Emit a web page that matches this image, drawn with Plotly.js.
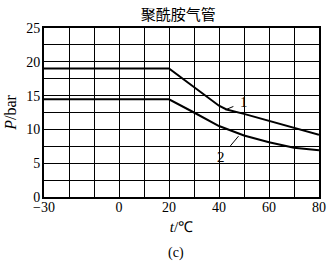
<!DOCTYPE html>
<html><head><meta charset="utf-8">
<script src="https://cdn.plot.ly/plotly-3.0.1.min.js"></script>
<style>html,body{margin:0;padding:0;background:#fff}#c{width:333px;height:265px}</style>
</head><body><div id="c"></div>
<script>
const curve1T = [-30, 20, 40, 43, 50, 60, 70, 80];
const curve1P = [19, 19, 13.5, 12.95, 12.3, 11.3, 10.3, 9.2];
const curve2T = [-30, 20, 30, 40, 50, 60, 70, 80];
const curve2P = [14.45, 14.45, 12.5, 10.5, 9.1, 8.1, 7.3, 6.9];
const xTickVals = [-30,-20,-10,0,10,20,30,40,50,60,70,80];
const xTickText = ['\u221230','','','0','','20','','40','','60','','80'];
const yTickVals = [0,2.5,5,7.5,10,12.5,15,17.5,20,22.5,25];
const yTickText = ['0','','5','','10','','15','','20','','25'];
const labels = ['1','2'];

const serif = 'Liberation Serif, Times New Roman, serif';
const traces = [
  {x: curve1T, y: curve1P, mode: 'lines', line: {color: '#000', width: 2}, hoverinfo: 'skip'},
  {x: curve2T, y: curve2P, mode: 'lines', line: {color: '#000', width: 2}, hoverinfo: 'skip'}
];
const layout = {
  width: 333, height: 265,
  margin: {l: 44, r: 14, t: 28, b: 68},
  paper_bgcolor: '#fff', plot_bgcolor: '#fff',
  showlegend: false,
  font: {family: serif, color: '#000', size: 14},
  title: {text: '聚酰胺气管', font: {family: 'Noto Sans CJK SC', size: 15, color: '#000'}, x: 0.535, xanchor: 'center', y: 0.945, yanchor: 'middle'},
  xaxis: {
    range: [-30, 80], tickvals: xTickVals, ticktext: xTickText,
    showgrid: true, gridcolor: '#000', gridwidth: 1,
    showline: true, linecolor: '#000', linewidth: 2, mirror: true,
    ticks: '', zeroline: false, tickfont: {family: serif, size: 14},
    ticklabelstandoff: -4,
    title: {text: '<i>t</i>/\u2103', font: {family: serif, size: 15}, standoff: 8}
  },
  yaxis: {
    range: [0, 25], tickvals: yTickVals, ticktext: yTickText,
    showgrid: true, gridcolor: '#000', gridwidth: 1,
    showline: true, linecolor: '#000', linewidth: 2, mirror: true,
    ticks: '', zeroline: false, tickfont: {family: serif, size: 14},
    ticklabelstandoff: -1,
    title: {text: '<i>P</i>/bar', font: {family: serif, size: 16}, standoff: 6}
  },
  annotations: [
    {x: 42.5, y: 12.9, ax: 49.8, ay: 14.0, axref: 'x', ayref: 'y', xref: 'x', yref: 'y',
     text: labels[0], showarrow: true, arrowhead: 0, arrowwidth: 1, arrowcolor: '#000', standoff: 0, startstandoff: 5,
     font: {family: serif, size: 15}},
    {x: 47.8, y: 9.0, ax: 40.8, ay: 5.9, axref: 'x', ayref: 'y', xref: 'x', yref: 'y',
     text: labels[1], showarrow: true, arrowhead: 0, arrowwidth: 1, arrowcolor: '#000', standoff: 0, startstandoff: 6,
     font: {family: serif, size: 15}},
    {x: 0.48, y: 0, xref: 'paper', yref: 'paper', yshift: -56, text: '(c)', showarrow: false,
     font: {family: serif, size: 14}, yanchor: 'middle'}
  ]
};
Plotly.newPlot('c', traces, layout, {staticPlot: true, displayModeBar: false});
</script></body></html>
